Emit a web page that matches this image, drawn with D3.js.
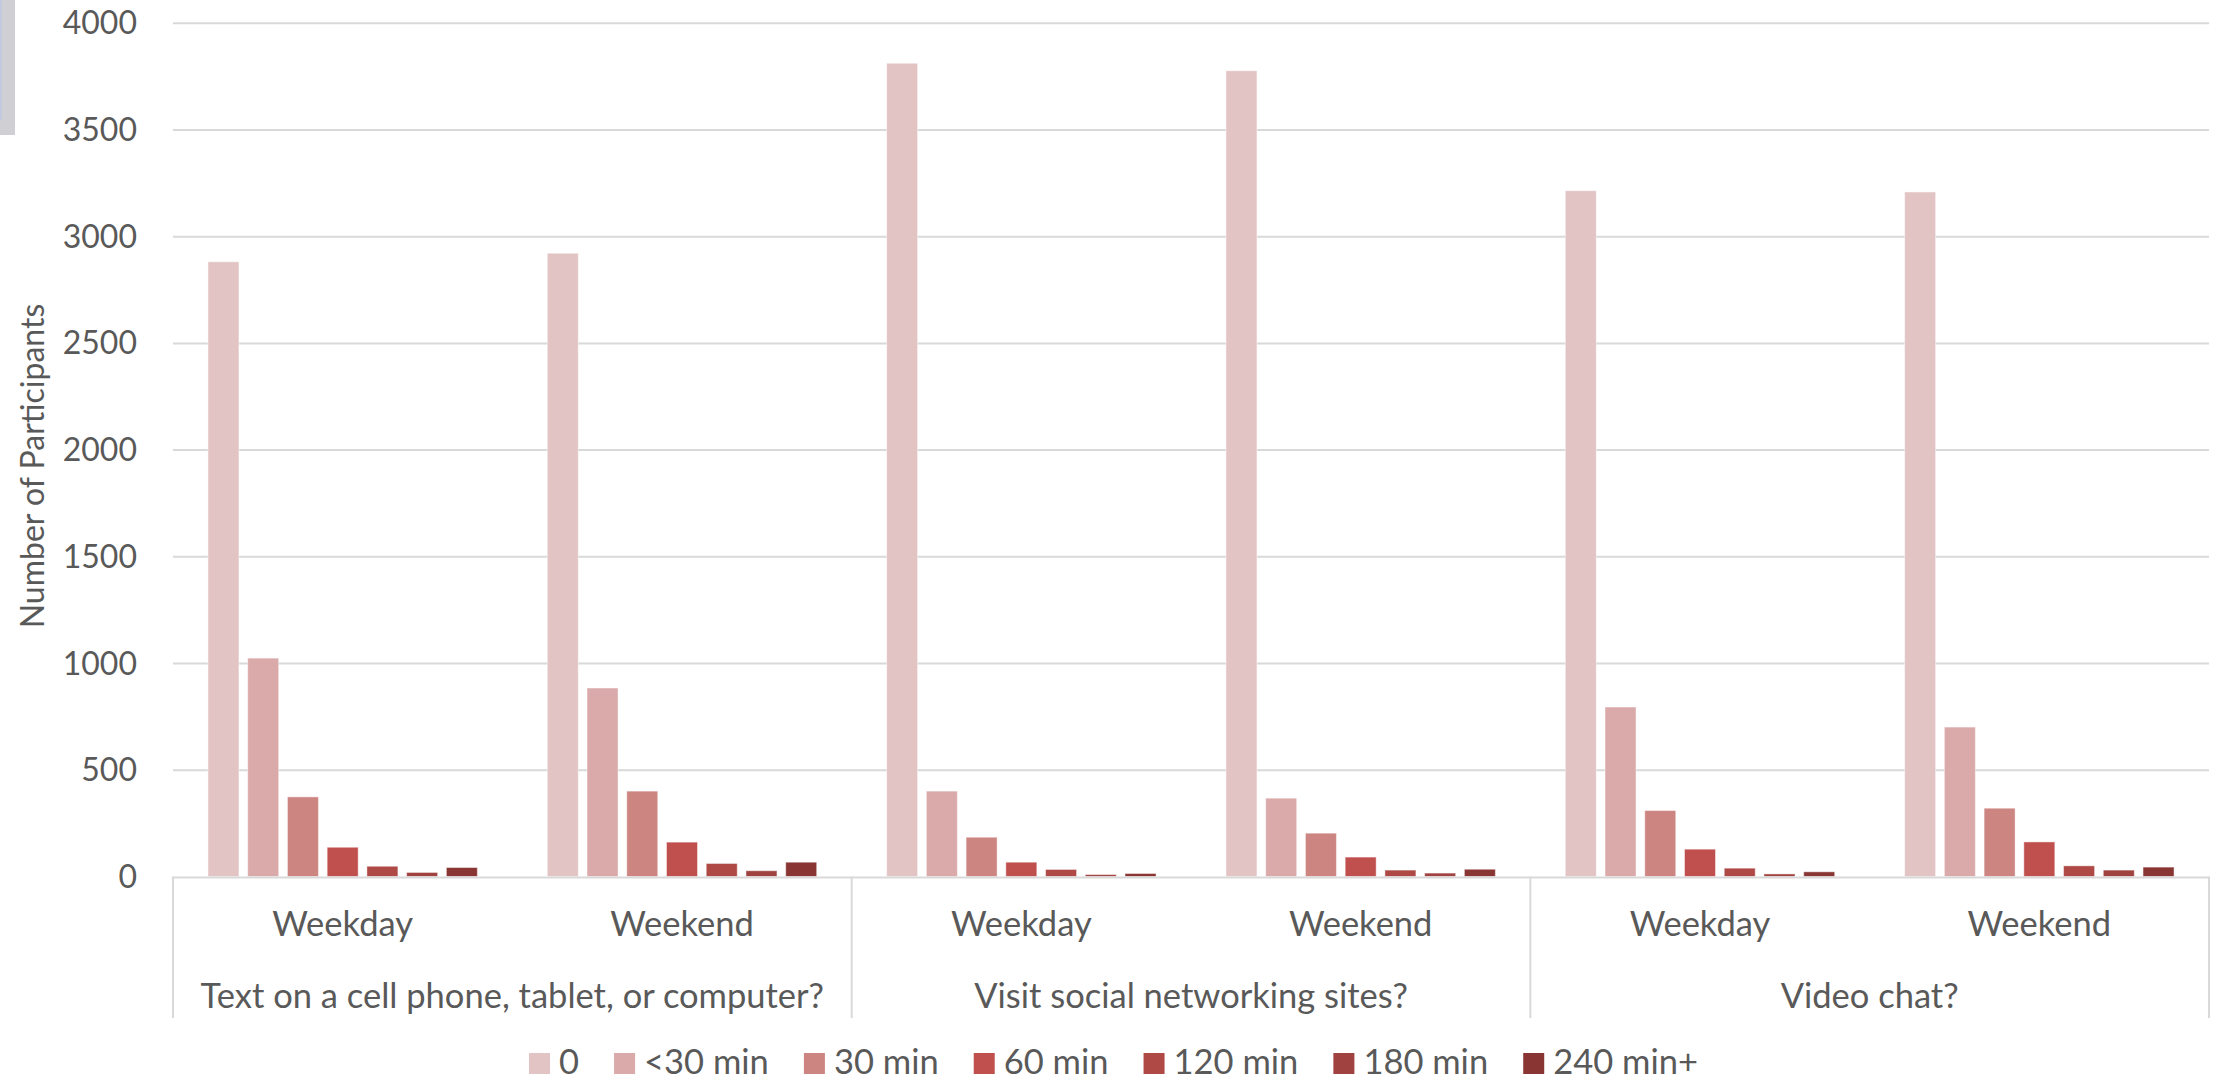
<!DOCTYPE html>
<html>
<head>
<meta charset="utf-8">
<script src="https://cdn.jsdelivr.net/npm/d3@7"></script>
<style>
  body { margin: 0; background: #fff; }
  text { font-family: Lato, "Open Sans", sans-serif; fill: #595959; }
</style>
</head>
<body>
<div id="chart"></div>
<script>
// data
const activities = ['Text on a cell phone, tablet, or computer?', 'Visit social networking sites?', 'Video chat?'];
const dayTypes = ['Weekday', 'Weekend'];
const durations = ['0', '<30 min', '30 min', '60 min', '120 min', '180 min', '240 min+'];
const yTicks = [0, 500, 1000, 1500, 2000, 2500, 3000, 3500, 4000];

// one value per group: text wd, text we, social wd, social we, video wd, video we
const v0    = [2880, 2920, 3810, 3775, 3213, 3207];
const vLt30 = [1023, 883, 400, 367, 794, 700];
const v30   = [373, 400, 184, 203, 309, 320];
const v60   = [137, 161, 67, 91, 128, 162];
const v120  = [48, 61, 33, 30, 39, 50];
const v180  = [19, 27, 9, 16, 12, 30];
const v240  = [42, 67, 14, 34, 22, 44];
const seriesValues = [v0, vLt30, v30, v60, v120, v180, v240];

const colors = ['#E3C4C5', '#DAA9A9', '#CD8582', '#C0504D', '#AE4946', '#A0423F', '#893533'];

var svgWidth = 2216, svgHeight = 1081;
var plotLeft = 173, plotRight = 2209, plotTop = 22.7, plotBase = 876.5;
var labelSize = '34.5px';

var svg = d3.select('#chart').append('svg')
    .attr('width', svgWidth)
    .attr('height', svgHeight);

// little grey tab in the corner
svg.append('rect').attr('x', 0).attr('y', 0).attr('width', 15).attr('height', 135).attr('fill', '#D0D0D4');
svg.append('rect').attr('x', 0).attr('y', 0).attr('width', 2).attr('height', 120).attr('fill', '#C3CADF');

// groups = activity x day type
var groups = [];
activities.forEach(a => dayTypes.forEach(d => groups.push(a + '|' + d)));

var x0 = d3.scaleBand().domain(groups).range([plotLeft, plotRight]).padding(0);
var x1 = d3.scaleBand().domain(durations).range([0, x0.bandwidth()])
    .paddingInner(0.22).paddingOuter(0.88);
var y = d3.scaleLinear().domain([0, 4000]).range([plotBase, plotTop]);
var color = d3.scaleOrdinal().domain(durations).range(colors);

// gridlines
svg.append('g')
    .attr('transform', `translate(${plotLeft},0)`)
    .call(d3.axisLeft(y).tickValues(yTicks.slice(1)).tickSize(-(plotRight - plotLeft)).tickFormat(''))
    .call(g => g.select('.domain').remove())
    .call(g => g.selectAll('line').attr('stroke', '#D9D9D9').attr('stroke-width', 2));

// y tick labels
svg.append('g')
    .attr('transform', `translate(137,0)`)
    .call(d3.axisLeft(y).tickValues(yTicks).tickSize(0).tickPadding(0).tickFormat(d3.format('d')))
    .call(g => g.select('.domain').remove())
    .call(g => g.selectAll('text')
        .attr('dy', null)
        .attr('y', 11)
        .attr('text-anchor', 'end')
        .attr('fill', null)
        .style('font-size', '32px')
        .style('font-family', 'Lato'));

// bars
var barData = [];
groups.forEach((g, gi) => {
    durations.forEach((d, di) => {
        barData.push({ group: g, dur: d, value: seriesValues[di][gi] });
    });
});

svg.append('g').selectAll('rect')
    .data(barData)
    .join('rect')
    .attr('x', d => x0(d.group) + x1(d.dur))
    .attr('y', d => y(d.value))
    .attr('width', x1.bandwidth())
    .attr('height', d => plotBase - y(d.value))
    .attr('fill', d => color(d.dur))
    .attr('stroke', '#fff')
    .attr('stroke-opacity', 0.45)
    .attr('stroke-width', 1);

// category axis box
svg.append('line')
    .attr('x1', plotLeft).attr('x2', plotRight)
    .attr('y1', plotBase + 1).attr('y2', plotBase + 1)
    .attr('stroke', '#D9D9D9').attr('stroke-width', 2);

var catEdges = [plotLeft].concat(activities.map(a => x0(a + '|' + dayTypes[1]) + x0.bandwidth()));
svg.append('g').selectAll('line')
    .data(catEdges)
    .join('line')
    .attr('x1', d => d).attr('x2', d => d)
    .attr('y1', plotBase).attr('y2', 1018)
    .attr('stroke', '#D9D9D9').attr('stroke-width', 2);

// day type labels
svg.append('g').selectAll('text')
    .data(groups)
    .join('text')
    .attr('x', d => x0(d) + x0.bandwidth() / 2)
    .attr('y', 936)
    .attr('text-anchor', 'middle')
    .style('font-size', labelSize)
    .text(d => d.split('|')[1]);

// activity labels
svg.append('g').selectAll('text')
    .data(activities)
    .join('text')
    .attr('x', d => x0(d + '|' + dayTypes[0]) + x0.bandwidth())
    .attr('y', 1008)
    .attr('text-anchor', 'middle')
    .style('font-size', labelSize)
    .text(d => d);

// y axis title
svg.append('text')
    .attr('transform', 'translate(43.5,466) rotate(-90)')
    .attr('text-anchor', 'middle')
    .style('font-size', '32px')
    .text('Number of Participants');

// legend: items spread from x=529 to x=1698
var legend = svg.append('g');
var items = durations.map((d, i) => {
    var item = legend.append('g');
    item.append('rect')
        .attr('x', 0).attr('y', 1053)
        .attr('width', 21).attr('height', 21)
        .attr('fill', colors[i]);
    var t = item.append('text')
        .attr('x', 30).attr('y', 1074)
        .style('font-size', labelSize)
        .text(d);
    return { g: item, w: 30 + t.node().getComputedTextLength() };
});
var totalW = d3.sum(items, d => d.w);
var gap = (1698 - 529 - totalW) / (items.length - 1);
var lx = 529;
items.forEach(it => {
    it.g.attr('transform', `translate(${lx},0)`);
    lx += it.w + gap;
});
</script>
</body>
</html>
